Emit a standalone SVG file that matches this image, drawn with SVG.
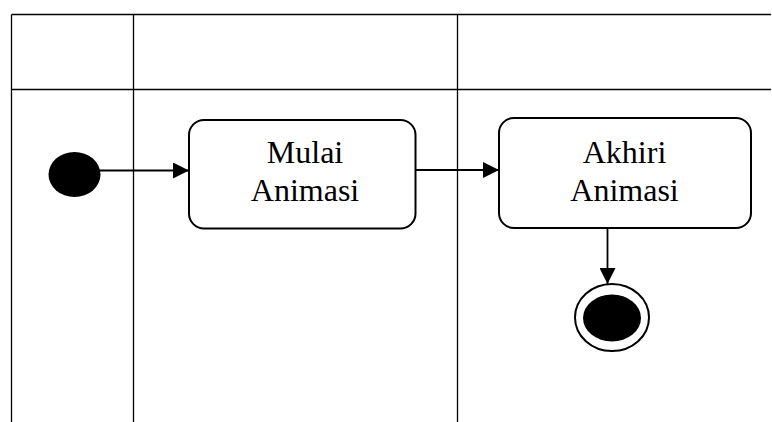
<svg xmlns="http://www.w3.org/2000/svg" width="772" height="422" viewBox="0 0 772 422">
  <style>
    .grid { stroke: #000; stroke-width: 1.3; fill: none; }
    .act { fill: #fff; stroke: #000; stroke-width: 2; }
    .lbl { font-family: "Liberation Serif", "Times New Roman", serif; font-size: 32px; fill: #000; text-anchor: middle; }
    .flow { stroke: #000; stroke-width: 1.8; fill: none; marker-end: url(#arrow); }
  </style>
  <defs>
    <marker id="arrow" viewBox="0 0 16 16" refX="16" refY="8" markerWidth="16" markerHeight="16" markerUnits="userSpaceOnUse" orient="auto">
      <path d="M0,0 L16,8 L0,16 Z" fill="#000"/>
    </marker>
  </defs>
  <rect width="772" height="422" fill="#fff"/>

  <!-- swimlane grid -->
  <g id="lanes" class="grid">
    <line x1="11.5" y1="14.5" x2="771" y2="14.5"/>
    <line x1="11.5" y1="89.5" x2="771" y2="89.5"/>
    <line x1="11.5" y1="14.5" x2="11.5" y2="422"/>
    <line x1="133.5" y1="14.5" x2="133.5" y2="422"/>
    <line x1="457.5" y1="14.5" x2="457.5" y2="422"/>
  </g>

  <!-- connectors -->
  <g id="connectors">
    <line class="flow" x1="98" y1="170.5" x2="189" y2="170.5"/>
    <line class="flow" x1="416" y1="170" x2="499" y2="170"/>
    <line class="flow" x1="607.5" y1="228" x2="607.5" y2="284"/>
  </g>

  <g id="start">
    <ellipse cx="74.5" cy="174.5" rx="26" ry="22.5" fill="#000"/>
  </g>

  <g id="mulai-animasi">
    <rect class="act" x="189" y="120" width="226.5" height="108.5" rx="15"/>
    <text class="lbl" x="305" y="163">Mulai</text>
    <text class="lbl" x="305" y="200.5">Animasi</text>
  </g>

  <g id="akhiri-animasi">
    <rect class="act" x="499" y="118" width="252" height="110" rx="15"/>
    <text class="lbl" x="624.5" y="163">Akhiri</text>
    <text class="lbl" x="624.5" y="200.5">Animasi</text>
  </g>

  <g id="end">
    <ellipse cx="612" cy="317.5" rx="37" ry="33.5" fill="#fff" stroke="#000" stroke-width="2"/>
    <ellipse cx="612" cy="318" rx="29" ry="23.5" fill="#000"/>
  </g>
</svg>
